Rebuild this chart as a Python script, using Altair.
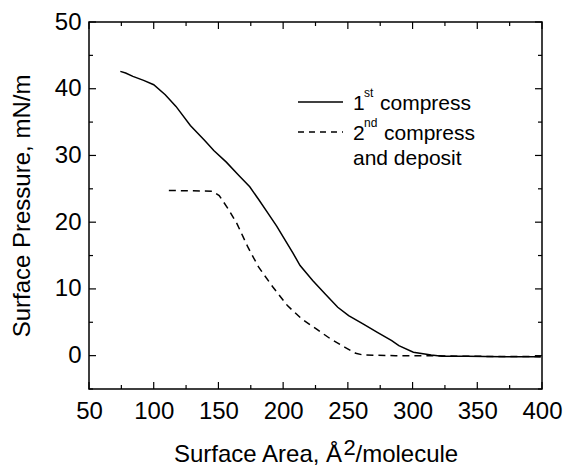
import altair as alt
import pandas as pd

# ---- data ----
solid_x = [74.2, 78.3, 83.9, 92.2, 100, 108.9, 117.2, 128.3, 139.4, 146.4, 156.1, 165.8,
           174.2, 181.1, 188.1, 195, 200.6, 207.5, 213.1, 222.8, 232.5, 242.2, 250.6,
           261.7, 272.8, 283.9, 289.4, 300.6, 314.4, 322.8, 342, 370, 399]
solid_y = [42.6, 42.35, 41.85, 41.25, 40.6, 39.1, 37.35, 34.5, 32.25, 30.75, 29.0, 27.0,
           25.3, 23.4, 21.4, 19.4, 17.6, 15.4, 13.5, 11.25, 9.25, 7.25, 6.0,
           4.75, 3.5, 2.25, 1.5, 0.5, 0.1, -0.1, -0.1, -0.15, -0.15]

dash_x = [111.7, 145, 150.6, 157.5, 164.4, 172.8, 181.1, 192.2, 203.3, 214.4, 225.6,
          236.7, 247.8, 256.1, 261.7, 286.7, 314.4, 342, 399]
dash_y = [24.75, 24.65, 24.0, 22.0, 19.75, 16.25, 13.25, 10.25, 7.5, 5.5, 4.0,
          2.5, 1.25, 0.35, 0.1, 0.0, 0.0, -0.1, -0.15]

x_major = [50, 100, 150, 200, 250, 300, 350, 400]
x_minor = [75, 125, 175, 225, 275, 325, 375]
y_major = [0, 10, 20, 30, 40, 50]
y_minor = [-5, 5, 15, 25, 35, 45]

x_title_parts = ["Surface Area, Å", "2", "/molecule"]
y_title = "Surface Pressure, mN/m"
legend_parts = ["1", "st", "compress", "2", "nd", "compress", "and deposit"]

W, H = 453, 367
FONT = "Liberation Sans"
FS = 24      # axis text
LFS = 21     # legend text

xs = alt.Scale(domain=[50, 400], nice=False, zero=False)
ys = alt.Scale(domain=[-5, 50], nice=False, zero=False)

solid_df = pd.DataFrame({"x": solid_x, "y": solid_y})
dash_df = pd.DataFrame({"x": dash_x, "y": dash_y})

base_axes = alt.Chart(solid_df).mark_line(color="black", strokeWidth=1.5).encode(
    x=alt.X("x:Q", scale=xs,
            axis=alt.Axis(values=x_major, title=None, ticks=False, tickSize=0,
                          domain=False, grid=False, labelPadding=10,
                          labelFlush=False, labelOverlap=False)),
    y=alt.Y("y:Q", scale=ys,
            axis=alt.Axis(values=y_major, title=y_title, ticks=False, tickSize=0,
                          domain=False, grid=False, labelPadding=8,
                          labelFlush=False, labelOverlap=False,
                          titleBaseline="alphabetic", titleX=-60, titleY=H / 2)),
)

dashed = alt.Chart(dash_df).mark_line(color="black", strokeWidth=1.5, strokeDash=[7, 5]).encode(
    x=alt.X("x:Q", scale=xs), y=alt.Y("y:Q", scale=ys)
)

def xticks(vals, length):
    d = pd.DataFrame({"v": vals})
    bot = alt.Chart(d).mark_rule(color="black", strokeWidth=1.2).encode(
        x=alt.X("v:Q", scale=xs), y=alt.value(H), y2=alt.value(H - length))
    top = alt.Chart(d).mark_rule(color="black", strokeWidth=1.2).encode(
        x=alt.X("v:Q", scale=xs), y=alt.value(0), y2=alt.value(length))
    return [bot, top]

def yticks(vals, length):
    d = pd.DataFrame({"v": vals})
    left = alt.Chart(d).mark_rule(color="black", strokeWidth=1.2).encode(
        y=alt.Y("v:Q", scale=ys), x=alt.value(0), x2=alt.value(length))
    right = alt.Chart(d).mark_rule(color="black", strokeWidth=1.2).encode(
        y=alt.Y("v:Q", scale=ys), x=alt.value(W), x2=alt.value(W - length))
    return [left, right]

ticks = xticks(x_major, 7) + xticks(x_minor, 4) + yticks(y_major, 7) + yticks(y_minor, 4)

one = pd.DataFrame({"d": [0]})
def txt(s, x, y, size):
    return alt.Chart(one).mark_text(font=FONT, fontSize=size, align="left",
                                    baseline="alphabetic", color="black").encode(
        x=alt.value(x), y=alt.value(y), text=alt.value(s))

# ---- x-axis title (large raised "2" as in the reference) ----
xtitle = [
    txt(x_title_parts[0], 85, 440, FS),
    txt(x_title_parts[1], 254.5, 433, 22),
    txt(x_title_parts[2], 266.5, 440, FS),
]

# ---- legend (drawn by hand to keep superscripts) ----
leg_solid = alt.Chart(one).mark_rule(color="black", strokeWidth=1.5).encode(
    x=alt.value(209), x2=alt.value(254), y=alt.value(80))
leg_dash = alt.Chart(one).mark_rule(color="black", strokeWidth=1.5, strokeDash=[6, 5]).encode(
    x=alt.value(209), x2=alt.value(254), y=alt.value(110))

legend = [
    leg_solid, leg_dash,
    txt(legend_parts[0], 264, 88, LFS), txt(legend_parts[1], 275, 75, 12),
    txt(legend_parts[2], 291, 88, LFS),
    txt(legend_parts[3], 264, 118, LFS), txt(legend_parts[4], 275, 105, 12),
    txt(legend_parts[5], 295, 118, LFS),
    txt(legend_parts[6], 264, 143, LFS),
]

chart = alt.layer(base_axes, dashed, *ticks, *xtitle, *legend).properties(
    width=W, height=H,
    autosize=alt.AutoSizeParams(type="none"),
    padding={"left": 89, "top": 22, "right": 22, "bottom": 80},
    background="white",
).configure_view(stroke="black", strokeWidth=1.5).configure_axis(
    labelFont=FONT, labelFontSize=FS, labelColor="black",
    titleFont=FONT, titleFontSize=FS, titleFontWeight="normal", titleColor="black",
)

chart.save("out.html", embed_options={"renderer": "svg", "actions": False})
